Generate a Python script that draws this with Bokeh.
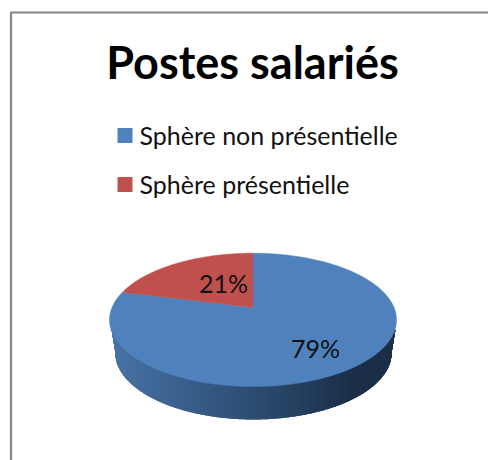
import numpy as np
from bokeh.plotting import figure
from bokeh.models import Range1d
from bokeh.embed import file_html
from bokeh.resources import INLINE
from bokeh.core.properties import value

# data
categories = ["Sphère non présentielle", "Sphère présentielle"]
shares = [79, 21]
labels = ["79%", "21%"]
colors = ["#4f81bd", "#c0504d"]
title_text = "Postes salariés"

# page-pixel coordinate system
W, H = 488, 460
p = figure(width=W, height=H, output_backend="svg", toolbar_location=None,
           x_range=Range1d(0, W), y_range=Range1d(H, 0),
           min_border=0, outline_line_color=None, background_fill_color="white",
           border_fill_color="white")
p.axis.visible = False
p.grid.visible = False

# chart frame, cut by the window on the right and at the bottom
p.line([10.5, 10.5, W], [H, 12, 12], line_color="#868686", line_width=2.2)

# perspective disc: homography from the unit circle to the screen
CX, R = 252.5, 141.0
APEX_Y, TOP_Y, BOT_Y = 307.0, 252.7, 386.0
c = abs((TOP_Y + BOT_Y - 2 * APEX_Y) / (BOT_Y - TOP_Y))
a = TOP_Y * (1 + c) - APEX_Y


def project(theta):
    u, v = np.sin(theta), np.cos(theta)
    d = 1 + c * v
    return CX + R * u / d, (APEX_Y + a * v) / d


def wedge(start, end, n=160):
    t = np.linspace(start, end, n)
    x, y = project(t)
    return np.r_[CX, x], np.r_[APEX_Y, y]


# extruded side: vertical strips with a horizontal gradient
EXT = 33.0
mid_y = (TOP_Y + BOT_Y) / 2
semi_h = (BOT_Y - TOP_Y) / 2
semi_w = R / np.sqrt(1 - c ** 2)
low_w = semi_w - 5.5
xs = np.arange(CX - semi_w + 0.5, CX + semi_w - 1.0, 1.0)
xc = xs + 0.5
dx = np.abs(xc - CX)
top_low = mid_y + semi_h * np.sqrt(np.clip(1 - (dx / semi_w) ** 2, 0, 1))
bot_ell = mid_y + EXT + semi_h * np.sqrt(np.clip(1 - (dx / low_w) ** 2, 0, 1))
taper = mid_y + EXT * (semi_w - dx) / (semi_w - low_w)
bot_low = np.where(dx < low_w, bot_ell, taper)
stops_x = [CX - semi_w, CX - 90, CX - 10, CX + 60, CX + 100, CX + semi_w]
stops_rgb = np.array([[72, 116, 166], [62, 102, 148], [48, 80, 118], [35, 60, 90], [27, 47, 71], [28, 48, 72]])
rgb = [np.interp(xc, stops_x, stops_rgb[:, i]).astype(int) for i in range(3)]
strip_colors = ["#%02x%02x%02x" % t for t in zip(*rgb)]
p.quad(left=xs, right=np.minimum(xs + 2.0, xs[-1] + 1.0), top=mid_y + (top_low - mid_y) * 0.9, bottom=bot_low,
       fill_color=strip_colors, line_color=None)

# top face, drawn from the shares; second slice ends at 12 o'clock
turn = 2 * np.pi
a0 = 0.0
for share, col in zip(shares, colors):
    a1 = a0 + turn * share / sum(shares)
    x, y = wedge(a0, a1)
    p.patch(x, y, fill_color=col, line_color=col, line_width=0.5)
    a0 = a1

# slice labels
p.text(x=[315, 223], y=[347, 282], text=labels, text_font=value("Lato"),
       text_font_size="25px", text_color="#111111",
       text_align="center", text_baseline="middle")

# title
p.text(x=[252], y=[61], text=[title_text], text_font=value("Lato"), text_font_style="bold",
       text_font_size="45px", text_color="black", text_align="center", text_baseline="middle")

# legend
leg_y = [135, 184]
p.rect(x=[124.5, 124.5], y=leg_y, width=15, height=15, fill_color=colors, line_color=None)
p.text(x=[139, 139], y=[134, 183], text=categories, text_font=value("Lato"),
       text_font_size="25px", text_color="#111111", text_align="left", text_baseline="middle")

open("out.html", "w").write(file_html(p, INLINE))
